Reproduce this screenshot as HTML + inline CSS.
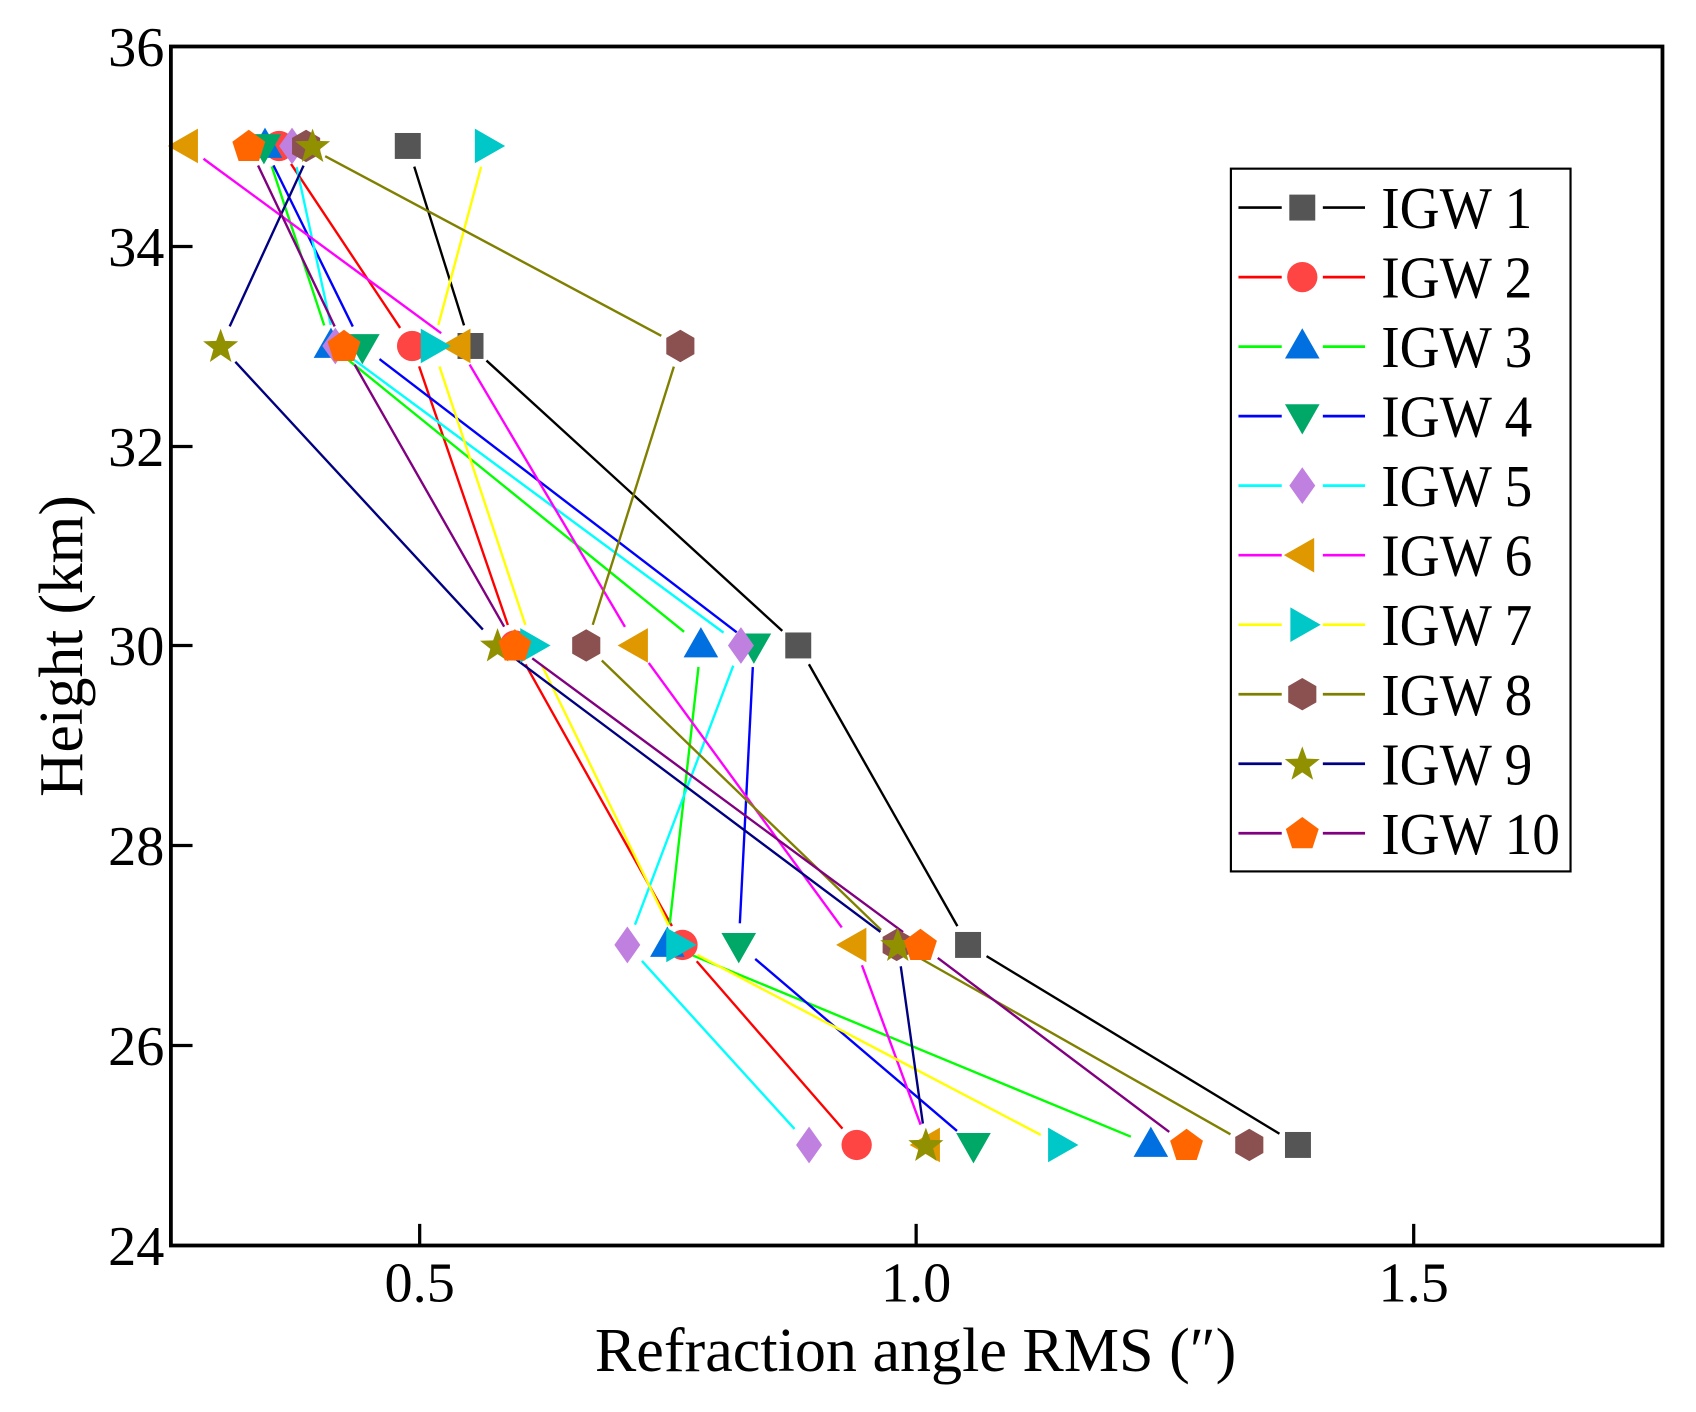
<!DOCTYPE html>
<html><head><meta charset="utf-8"><style>
html,body{margin:0;padding:0;background:#fff;}
svg{display:block;}
text{font-family:"Liberation Serif","DejaVu Serif",serif;fill:#000;}
</style></head><body>
<svg id="s" width="1696" height="1412" viewBox="0 0 1568 1306" preserveAspectRatio="none" xmlns="http://www.w3.org/2000/svg">
<rect x="0" y="0" width="1568" height="1306" fill="#fff"/>
<g id="plot"></g>
<rect x="158" y="43" width="1379" height="1109" fill="none" stroke="#000" stroke-width="3.5"/>
<g stroke="#000" stroke-width="3">
<line x1="388" y1="1152" x2="388" y2="1132"/>
<line x1="847" y1="1152" x2="847" y2="1132"/>
<line x1="1307" y1="1152" x2="1307" y2="1132"/>
<line x1="158" y1="228" x2="178" y2="228"/>
<line x1="158" y1="413" x2="178" y2="413"/>
<line x1="158" y1="597" x2="178" y2="597"/>
<line x1="158" y1="782" x2="178" y2="782"/>
<line x1="158" y1="967" x2="178" y2="967"/>
</g>
<g font-size="52" text-anchor="end">
<text x="152" y="61">36</text>
<text x="152" y="246">34</text>
<text x="152" y="431">32</text>
<text x="152" y="615">30</text>
<text x="152" y="800">28</text>
<text x="152" y="985">26</text>
<text x="152" y="1170">24</text>
</g>
<g font-size="52" text-anchor="middle">
<text x="388" y="1204">0.5</text>
<text x="847" y="1204">1.0</text>
<text x="1307" y="1204">1.5</text>
</g>
<text x="550" y="1268" font-size="58" textLength="593" lengthAdjust="spacingAndGlyphs">Refraction angle RMS (″)</text>
<text transform="translate(76,737) rotate(-90)" font-size="58" textLength="279" lengthAdjust="spacingAndGlyphs">Height (km)</text>
<rect x="1138" y="156" width="314" height="650" fill="#fff" stroke="#000" stroke-width="2"/>
<g id="leg"></g>
</svg>
<script>
var NS="http://www.w3.org/2000/svg";
var Y=[135,320,597,874,1059];
var S=[
{n:"IGW 1",lc:"#000",mc:"#555",m:"sq",x:[377,435,738,895,1200]},
{n:"IGW 2",lc:"#f00",mc:"#f44",m:"ci",x:[258,381,476,631,792]},
{n:"IGW 3",lc:"#0f0",mc:"#0070e0",m:"tu",x:[245,306,648,617,1064]},
{n:"IGW 4",lc:"#00f",mc:"#00a868",m:"td",x:[244,335,697,683,900]},
{n:"IGW 5",lc:"#0ff",mc:"#c080e0",m:"di",x:[270,310,685,580,748]},
{n:"IGW 6",lc:"#f0f",mc:"#e09800",m:"tl",x:[172,424,588,790,858]},
{n:"IGW 7",lc:"#ff0",mc:"#00c8c8",m:"tr",x:[450,400,492,627,980]},
{n:"IGW 8",lc:"#808000",mc:"#8b5050",m:"hx",x:[283,629,542,829,1155]},
{n:"IGW 9",lc:"#000080",mc:"#909000",m:"st",x:[289,204,460,830,856]},
{n:"IGW 10",lc:"#800080",mc:"#ff6600",m:"pe",x:[230,318,476,851,1097]}];
function el(t,a,p){var e=document.createElementNS(NS,t);for(var k in a)e.setAttribute(k,a[k]);p.appendChild(e);return e;}
function poly(pts,cx,cy){return pts.map(function(p){return (cx+p[0]).toFixed(1)+","+(cy+p[1]).toFixed(1)}).join(" ");}
function reg(n,r,rot){var a=[];for(var i=0;i<n;i++){var t=rot+i*2*Math.PI/n;a.push([r*Math.cos(t),r*Math.sin(t)]);}return a;}
function marker(m,cx,cy,c,g){
 if(m=="sq")el("rect",{x:cx-12,y:cy-12,width:24,height:24,fill:c},g);
 else if(m=="ci")el("circle",{cx:cx,cy:cy,r:14,fill:c},g);
 else if(m=="tu")el("polygon",{points:poly([[0,-17],[16,11],[-16,11]],cx,cy),fill:c},g);
 else if(m=="td")el("polygon",{points:poly([[0,17],[16,-11],[-16,-11]],cx,cy),fill:c},g);
 else if(m=="tl")el("polygon",{points:poly([[-17,0],[11,-16],[11,16]],cx,cy),fill:c},g);
 else if(m=="tr")el("polygon",{points:poly([[17,0],[-11,-16],[-11,16]],cx,cy),fill:c},g);
 else if(m=="di")el("polygon",{points:poly([[0,-17],[12,0],[0,17],[-12,0]],cx,cy),fill:c},g);
 else if(m=="hx")el("polygon",{points:poly(reg(6,15,-Math.PI/2),cx,cy),fill:c},g);
 else if(m=="pe")el("polygon",{points:poly(reg(5,16,-Math.PI/2),cx,cy+1),fill:c},g);
 else if(m=="st"){var a=[];for(var i=0;i<10;i++){var t=-Math.PI/2+i*Math.PI/5;var rr=i%2?7:17;a.push([rr*Math.cos(t),rr*Math.sin(t)]);}el("polygon",{points:poly(a,cx,cy+1),fill:c},g);}
}
var P=document.getElementById("plot");
S.forEach(function(s){
 for(var i=0;i<4;i++){
  var x1=s.x[i],y1=Y[i],x2=s.x[i+1],y2=Y[i+1];
  var dx=x2-x1,dy=y2-y1,L=Math.sqrt(dx*dx+dy*dy),g=20;
  if(L>2*g)el("line",{x1:x1+dx*g/L,y1:y1+dy*g/L,x2:x2-dx*g/L,y2:y2-dy*g/L,stroke:s.lc,"stroke-width":2.2},P);
 }
});
S.forEach(function(s){for(var i=0;i<5;i++)marker(s.m,s.x[i],Y[i],s.mc,P);});
var G=document.getElementById("leg");
S.forEach(function(s,i){
 var y=192+i*64.3;
 el("line",{x1:1145,y1:y,x2:1185,y2:y,stroke:s.lc,"stroke-width":2.5},G);
 el("line",{x1:1223,y1:y,x2:1262,y2:y,stroke:s.lc,"stroke-width":2.5},G);
 marker(s.m,1204,y,s.mc,G);
 var t=el("text",{transform:"translate(1277,"+(y+19)+") scale(0.93,1)","font-size":55},G);t.textContent=s.n;
});
</script>
</body></html>
